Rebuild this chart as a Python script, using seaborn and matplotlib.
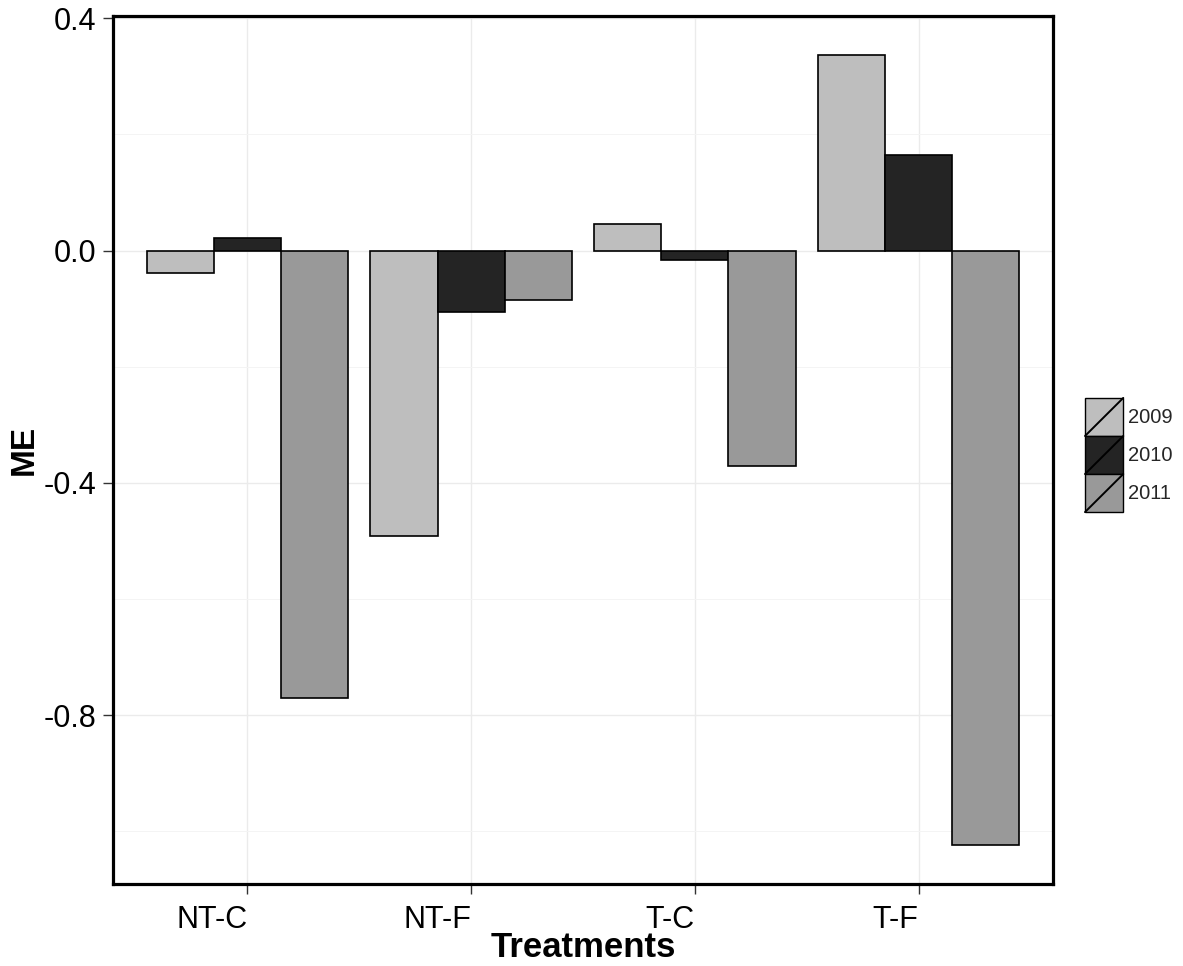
import numpy as np
import pandas as pd
import matplotlib
matplotlib.use('Agg')
import matplotlib.pyplot as plt
import seaborn as sns
from matplotlib.patches import Rectangle, Patch
from matplotlib.lines import Line2D
from matplotlib.legend_handler import HandlerPatch
from matplotlib.ticker import MultipleLocator

treatments = ['NT-C', 'NT-F', 'T-C', 'T-F']
years = ['2009', '2010', '2011']
me_2009 = [-0.038, -0.491, 0.045, 0.336]
me_2010 = [0.022, -0.105, -0.017, 0.165]
me_2011 = [-0.771, -0.086, -0.371, -1.023]
year_colors = {'2009': '#bebebe', '2010': '#242424', '2011': '#999999'}

df = pd.DataFrame({
    'Treatments': treatments * 3,
    'Year': [y for y in years for _ in treatments],
    'ME': me_2009 + me_2010 + me_2011,
})


class SlashHandler(HandlerPatch):
    # ggplot style legend key: filled box with a diagonal stroke
    def create_artists(self, legend, orig_handle, xdescent, ydescent,
                       width, height, fontsize, trans):
        x0, y0 = -xdescent, -ydescent
        box = Rectangle((x0, y0), width, height,
                        facecolor=orig_handle.get_facecolor(),
                        edgecolor='black', linewidth=1.0, transform=trans)
        slash = Line2D([x0, x0 + width], [y0, y0 + height],
                       color='black', linewidth=1.4, transform=trans)
        return [box, slash]


sns.set_style('white')
plt.rcParams['font.family'] = ['Liberation Sans', 'DejaVu Sans']

fig = plt.figure(figsize=(11.83, 9.66), dpi=100)
ax = fig.add_axes([113 / 1183, 1 - 884 / 966, 940 / 1183, 868 / 966])

sns.barplot(data=df, x='Treatments', y='ME', hue='Year', order=treatments,
            hue_order=years, palette=year_colors, width=0.9, dodge=True,
            edgecolor='black', linewidth=1.2, errorbar=None, ax=ax,
            legend=False, zorder=3)

lo, hi = min(df['ME']), max(df['ME'])
pad = (hi - lo) * 0.05
ax.set_ylim(lo - pad, hi + pad)
ax.set_xlim(-0.6, len(treatments) - 0.4)

ax.yaxis.set_minor_locator(MultipleLocator(0.2))
ax.set_yticks([0.4, 0.0, -0.4, -0.8])
ax.set_yticklabels(['0.4', '0.0', '-0.4', '-0.8'])
ax.set_xticks(range(len(treatments)))
ax.set_xticklabels(treatments, ha='right')

ax.grid(True, which='major', color='#ebebeb', linewidth=1.0, zorder=0)
ax.grid(True, which='minor', axis='y', color='#f4f4f4', linewidth=0.7, zorder=0)
ax.set_axisbelow(True)

for s in ax.spines.values():
    s.set_visible(True)
    s.set_color('black')
    s.set_linewidth(2.3)

ax.tick_params(axis='both', which='major', direction='out', length=7,
               width=1.0, color='#333333', labelcolor='black',
               left=True, bottom=True)
ax.tick_params(axis='y', which='major', labelsize=22, pad=5)
ax.tick_params(axis='x', which='major', labelsize=22, pad=8)
ax.tick_params(axis='y', which='minor', length=0)

ax.set_xlabel('Treatments', fontsize=25, fontweight='bold', labelpad=-2.5,
              color='black')
ax.set_ylabel('ME', fontsize=24, fontweight='bold', labelpad=3,
              color='black')

handles = [Patch(facecolor=year_colors[y], edgecolor='black', label=y)
           for y in years]
fig.legend(handles=handles, loc='center left',
           bbox_to_anchor=(1085 / 1183, 1 - 455 / 966), frameon=False,
           fontsize=14.5, handlelength=1.9, handleheight=2.53,
           labelspacing=0.0, handletextpad=0.25, borderpad=0, borderaxespad=0,
           handler_map={Patch: SlashHandler()})

fig.savefig('out.png', dpi=100)
